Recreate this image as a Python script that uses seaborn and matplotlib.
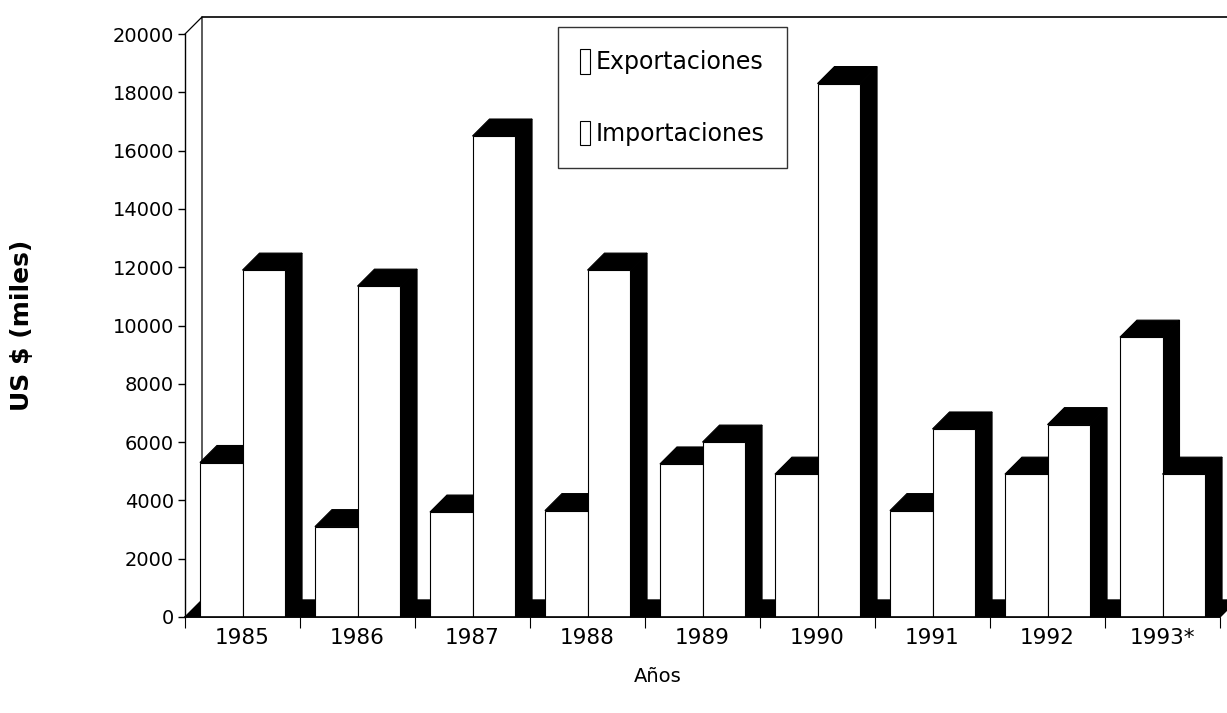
import pandas as pd
import seaborn as sns
import matplotlib.pyplot as plt
from matplotlib.patches import Polygon, Patch, Rectangle

years = ["1985", "1986", "1987", "1988", "1989", "1990", "1991", "1992", "1993*"]
exportaciones = [5300, 3100, 3600, 3650, 5250, 4900, 3650, 4900, 9600]
importaciones = [11900, 11350, 16500, 11900, 6000, 18300, 6450, 6600, 4900]
series = ["Exportaciones", "Importaciones"]

df = pd.DataFrame({
    "year": years * 2,
    "tipo": [series[0]] * len(years) + [series[1]] * len(years),
    "valor": exportaciones + importaciones,
})

sns.set_theme(style="white", rc={"text.color": "black", "axes.labelcolor": "black",
                                 "xtick.color": "black", "ytick.color": "black"})
plt.rcParams["font.family"] = ["DejaVu Sans"]

fig = plt.figure(figsize=(12.27, 7.13), dpi=100)
ax = fig.add_axes([185 / 1227, 96 / 713, 1035 / 1227, 583 / 713])

sns.barplot(data=df, x="year", y="valor", hue="tipo", order=years, hue_order=series,
            palette=["white", "white"], saturation=1, width=0.74, edgecolor="black",
            linewidth=0.8, legend=False, ax=ax)
bars = [p for p in ax.patches if isinstance(p, Rectangle)]

ax.set_xlim(-0.5, 8.5)
ax.set_ylim(0, 20000)

# 3D depth offset (data units)
dx = 17 / 115
dy = 17 * 20000 / 583

# floor
ax.add_patch(Polygon([(-0.5, 0), (-0.5 + dx, dy), (8.5 + dx, dy), (8.5, 0)],
                     closed=True, facecolor="black", edgecolor="black", zorder=1, clip_on=False))
# back wall
ax.plot([-0.5, -0.5 + dx, -0.5 + dx], [20000, 20000 + dy, dy], color="black", lw=0.9,
        zorder=1, clip_on=False)
ax.plot([-0.5 + dx, 8.5 + dx], [20000 + dy, 20000 + dy], color="black", lw=1.2,
        zorder=1, clip_on=False)

n = len(years)
for bar in bars:
    x0 = bar.get_x()
    x1 = x0 + bar.get_width()
    h = bar.get_height()
    z = 2 + 3 * x0
    top = Polygon([(x0, h), (x0 + dx, h + dy), (x1 + dx, h + dy), (x1, h)], closed=True,
                  facecolor="black", edgecolor="black", lw=0.8, zorder=z, clip_on=False)
    side = Polygon([(x1, 0), (x1 + dx, dy), (x1 + dx, h + dy), (x1, h)], closed=True,
                   facecolor="black", edgecolor="black", lw=0.8, zorder=z, clip_on=False)
    ax.add_patch(top)
    ax.add_patch(side)
    bar.set_zorder(z + 1)

sns.despine(ax=ax, top=True, right=True)
for s in ("left", "bottom"):
    ax.spines[s].set_color("black")
    ax.spines[s].set_zorder(200)
ax.spines["left"].set_linewidth(1)
ax.spines["bottom"].set_linewidth(1.2)

ax.set_yticks(range(0, 20001, 2000))
ax.tick_params(axis="y", direction="out", length=5, width=1, color="black",
               labelsize=14, pad=3, left=True)
ax.set_xticks(range(n))
ax.set_xticklabels(years)
ax.set_xticks([x - 0.5 for x in range(n + 1)], minor=True)
ax.tick_params(axis="x", which="major", length=0, labelsize=15.5, pad=8)
ax.tick_params(axis="x", which="minor", direction="out", length=8, width=0.8,
               color="black", bottom=True)

ax.set_xlabel("Años", fontsize=14, va="center")
ax.xaxis.set_label_coords((658 - 185) / 1035, (617 - 677) / 583)
ax.set_ylabel("US $ (miles)", fontsize=18, fontweight="bold", va="center")
ax.yaxis.set_label_coords((22 - 185) / 1035, 0.5)

handles = [Patch(facecolor="white", edgecolor="black", lw=0.8) for _ in series]
leg = ax.legend(handles, series, loc="upper left", bbox_to_anchor=(558 / 1227, 1 - 27 / 713),
                bbox_transform=fig.transFigure, fontsize=17, frameon=True, fancybox=False,
                edgecolor="black", handlelength=0.4, handleheight=1.2, handletextpad=0.25,
                labelspacing=1.95, borderpad=0.95, borderaxespad=0)
leg.get_frame().set_linewidth(1)
leg.set_zorder(100)

fig.savefig("out.png", dpi=100, facecolor="white")
